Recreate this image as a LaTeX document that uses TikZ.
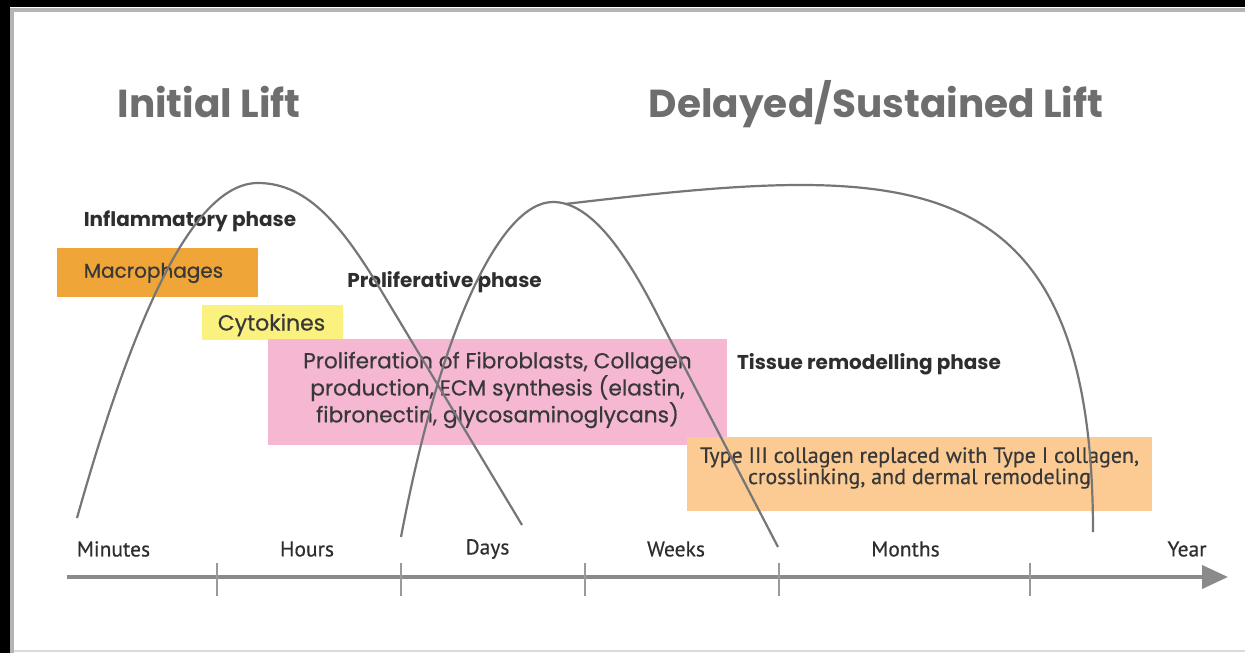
\documentclass[tikz,border=0pt]{standalone}
\usepackage{fontspec}
\setmainfont{Poppins}
\newfontfamily\medfont{Poppins}[FakeBold=0.5]
\newfontfamily\axisfont{PT Sans}[FakeBold=0.4]
\usetikzlibrary{arrows.meta}
\definecolor{titlegray}{HTML}{6E6E6E}
\definecolor{phasecol}{HTML}{2E2E2E}
\definecolor{boxtxt}{HTML}{383838}
\definecolor{curvecol}{HTML}{767676}
\definecolor{axiscol}{HTML}{8A8A8A}
\definecolor{tickcol}{HTML}{9A9A9A}
\definecolor{macro}{HTML}{EFA537}
\definecolor{cyto}{HTML}{FBF17E}
\definecolor{pinkbox}{HTML}{F5B7D2}
\definecolor{peach}{HTML}{FCCB94}
\definecolor{framegray}{HTML}{B4B4B4}
\begin{document}
\begin{tikzpicture}[x=1bp,y=-1bp,
  titletext/.style={font=\fontsize{39bp}{46bp}\selectfont\bfseries, text=titlegray, inner sep=0},
  phaselabel/.style={font=\fontsize{20bp}{24bp}\selectfont\bfseries, text=phasecol, inner sep=0},
  boxtext/.style={font=\medfont\fontsize{21.7bp}{25.5bp}\selectfont, text=boxtxt, align=center, inner sep=0},
  peachtext/.style={font=\axisfont\fontsize{22bp}{20bp}\selectfont, text=boxtxt, align=center, inner sep=0},
  axislabel/.style={font=\axisfont\fontsize{21.5bp}{22bp}\selectfont, text=phasecol, inner sep=0},
  colbox/.style={draw=none, inner sep=0, rectangle},
  curve/.style={draw=curvecol, line width=2.2bp},
  axisline/.style={draw=axiscol, line width=4bp},
  tickline/.style={draw=tickcol, line width=2bp}]
\fill[white] (0,0) rectangle (1245,653);
\useasboundingbox (0,0) rectangle (1245,653);
% frame
\fill[black] (0,0) rectangle (1245,7);
\fill[black] (0,0) rectangle (10,653);
\fill[framegray] (10,8) rectangle (1245,12);
\fill[framegray] (10,8) rectangle (14,653);
\fill[framegray!50] (14,650) rectangle (1245,652);
% titles
\node[titletext, anchor=base] (t1) at (209,118) {Initial Lift};
\node[titletext, anchor=base] (t2) at (876,118) {Delayed/Sustained Lift};
% boxes
\node[colbox, fill=macro, minimum width=201bp, minimum height=49bp] (bmac) at (157.5,272.5) {};
\node[colbox, fill=cyto, minimum width=141bp, minimum height=35bp] (bcyt) at (272.5,322.5) {};
\node[colbox, fill=pinkbox, minimum width=459bp, minimum height=106bp] (bpink) at (497.5,392) {};
\node[colbox, fill=peach, minimum width=465bp, minimum height=74bp] (bpeach) at (919.5,474) {};
% box texts
\node[boxtext, font=\medfont\fontsize{20bp}{24bp}\selectfont] (tmac) at (153.5,273) {Macrophages};
\node[boxtext, font=\medfont\fontsize{22bp}{24bp}\selectfont] (tcyt) at (271.5,325) {Cytokines};
\node[boxtext] (tpink) at (497.5,390) {Proliferation of Fibroblasts, Collagen\\production, ECM synthesis (elastin,\\fibronectin, glycosaminoglycans)};
\node[peachtext] (tpeach) at (919.5,468) {Type III collagen replaced with Type I collagen,\\crosslinking, and dermal remodeling};
% phase labels
\node[phaselabel] (pinf) at (190,221) {Inflammatory phase};
\node[phaselabel] (ppro) at (444.5,282) {Proliferative phase};
\node[phaselabel] (ptis) at (869,364) {Tissue remodelling phase};
% axis
\coordinate (ax0) at (67,577);
\coordinate (ax1) at (1228,577);
\draw[axisline, -{Triangle[length=26bp,width=23bp]}] (ax0) -- (ax1);
\foreach \tx [count=\i] in {217,401,585,779,1030}{
  \coordinate (tk\i a) at (\tx,563);
  \coordinate (tk\i b) at (\tx,596);
  \draw[tickline] (tk\i a) -- (tk\i b);
}
\node[axislabel] (lmin) at (113.5,549) {Minutes};
\node[axislabel] (lhou) at (307,549) {Hours};
\node[axislabel] (lday) at (487.5,549) {Days};
\node[axislabel] (lwee) at (676,549) {Weeks};
\node[axislabel] (lmon) at (905.5,549) {Months};
\node[axislabel] (lyea) at (1187,549) {Year};
% curves
\coordinate (c1s) at (77,518);
\coordinate (c1p) at (258,183);
\coordinate (c1m) at (385,297);
\coordinate (c1e) at (522,525);
\draw[curve] (c1s) .. controls (130,330) and (190,183) .. (c1p) .. controls (310,183) and (345,230) .. (c1m) -- (c1e);
\coordinate (c2s) at (401,537);
\coordinate (c2p) at (553,202);
\coordinate (c2m) at (660,320);
\coordinate (c2e) at (778,547);
\draw[curve] (c2s) .. controls (440,330) and (500,202) .. (c2p) .. controls (590,202) and (625,250) .. (c2m) -- (c2e);
\coordinate (c3s) at (565,204);
\coordinate (c3e) at (1093,532);
\draw[curve] (c3s) .. controls (900,165) and (1093,150) .. (c3e);
\end{tikzpicture}
\end{document}
